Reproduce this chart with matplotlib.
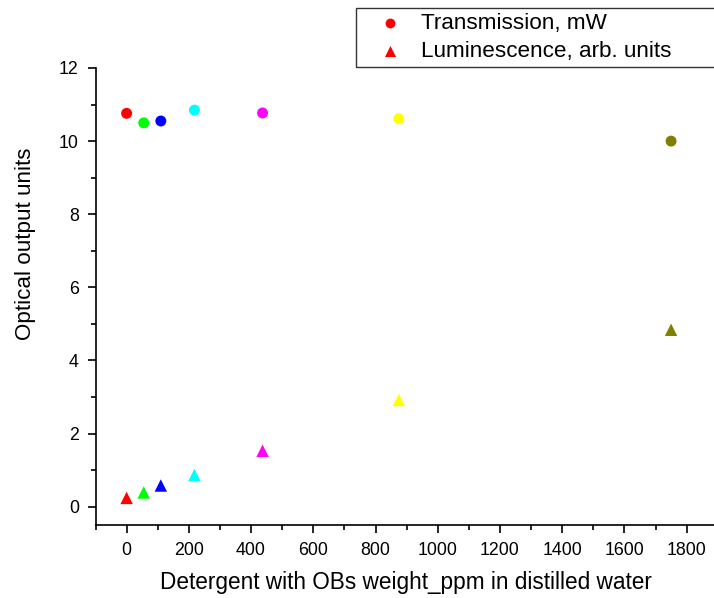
import matplotlib
matplotlib.use("Agg")
import matplotlib.pyplot as plt
from matplotlib.ticker import MultipleLocator

plt.rcParams['font.family'] = ['Liberation Sans', 'DejaVu Sans']

concentration = [0, 55, 110, 218, 437, 875, 1750]
transmission = [10.76, 10.50, 10.55, 10.85, 10.77, 10.61, 10.00]
luminescence = [0.24, 0.39, 0.58, 0.87, 1.53, 2.92, 4.84]
point_colors = ['#ff0000', '#00ff00', '#0000ff', '#00ffff', '#ff00ff', '#ffff00', '#808000']

W, H = 714, 598
fig = plt.figure(figsize=(W / 100, H / 100), dpi=100)
ax = fig.add_axes([95.5 / W, 1 - 525 / H, (714 - 95.5) / W, (525 - 68) / H])

ax.scatter(concentration, transmission, c=point_colors, marker='o', s=62, linewidths=0, zorder=3)
ax.scatter(concentration, luminescence, c=point_colors, marker='^', s=80, linewidths=0, zorder=3)

ax.set_xlim(-100, 1888)
ax.set_ylim(-0.5, 12)
ax.xaxis.set_major_locator(MultipleLocator(200))
ax.xaxis.set_minor_locator(MultipleLocator(100))
ax.yaxis.set_major_locator(MultipleLocator(2))
ax.yaxis.set_minor_locator(MultipleLocator(1))
ax.tick_params(which='both', direction='out', width=1.2, labelsize=12.8, colors='black')
ax.tick_params(which='major', length=6, pad=6)
ax.tick_params(which='minor', length=3.5)
for s in ['top', 'right']:
    ax.spines[s].set_visible(False)
for s in ['left', 'bottom']:
    ax.spines[s].set_linewidth(1.2)

fig.text(406 / W, 1 - 582 / H, 'Detergent with OBs weight_ppm in distilled water',
         ha='center', va='center', fontsize=16.3)
fig.text(26 / W, 1 - 244 / H, 'Optical output units', rotation=90,
         ha='center', va='center', fontsize=16.1)

h1 = ax.scatter([], [], c='#ff0000', marker='o', s=50, linewidths=0)
h2 = ax.scatter([], [], c='#ff0000', marker='^', s=64, linewidths=0)
leg = fig.legend([h1, h2], ['Transmission, mW', 'Luminescence, arb. units'],
                 loc='upper left', bbox_to_anchor=(356 / W, 1 - 65 / H, (725 - 356) / W, 57 / H),
                 mode='expand', borderaxespad=0, fancybox=False, fontsize=16.2,
                 frameon=True, edgecolor='black', handletextpad=0.05, labelspacing=0.34,
                 borderpad=0.2, handlelength=2.62)
leg.get_frame().set_linewidth(1.0)

fig.savefig('out.png', dpi=100)
